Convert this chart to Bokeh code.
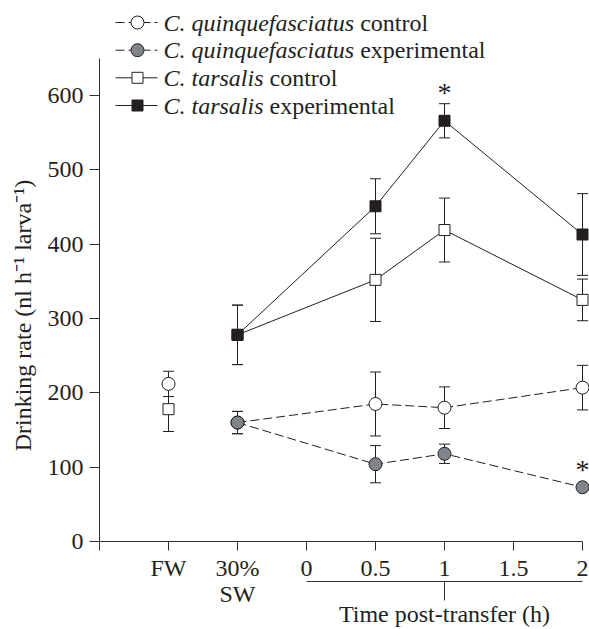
import math
from bokeh.plotting import figure
from bokeh.models import Range1d, LinearAxis, FixedTicker, Label
from bokeh.core.properties import value
from bokeh.embed import file_html
from bokeh.resources import INLINE

# ---------------- data ----------------
tick_pos = [-1.5, -1.0, -0.5, 0, 0.5, 1, 1.5, 2]
tick_text = ["", "FW", "30%", "0", "0.5", "1", "1.5", "2"]
y_ticks = [0, 100, 200, 300, 400, 500, 600]

fw_x = -1.0                      # freshwater position on the axis
series_x = [-0.5, 0.5, 1, 2]     # 30% SW (time 0), then hours post-transfer

quin_ctrl_fw, quin_ctrl_fw_err = 212, 17
tars_ctrl_fw, tars_ctrl_fw_err = 178, 30

quin_ctrl = [160, 185, 180, 207]
quin_ctrl_err = [15, 43, 28, 30]
quin_exp = [160, 104, 118, 73]
quin_exp_err = [15, 25, 13, 3]
tars_ctrl = [278, 352, 419, 325]
tars_ctrl_err = [40, 56, 43, 28]
tars_exp = [278, 451, 566, 413]
tars_exp_err = [40, 37, 23, 55]

sig_series = ["tars_exp", "quin_exp"]   # significant points
sig_index = [2, 3]

legend_italic = ["C. quinquefasciatus", "C. quinquefasciatus", "C. tarsalis", "C. tarsalis"]
legend_roman = ["control", "experimental", "control", "experimental"]

# ---------------- layout (pixels of the photographed page) ----------------
FIG_W, FIG_H, MARGIN = 589, 629, 0
AX_X0, AX_X1 = 99, 582          # x = -1.5 and x = 2
AX_Y0, AX_Y600 = 541, 95        # y = 0 and y = 600
ppx = (AX_X1 - AX_X0) / 3.5
ppy = (AX_Y0 - AX_Y600) / 600.0


def dx(sx):
    return -1.5 + (sx - AX_X0) / ppx


def dy(sy):
    return (AX_Y0 - sy) / ppy


INK = "#231f20"
AXC = "#2e2e2e"
GRAY = "#7f858b"
FONT = "Liberation Serif"
FS = "24px"

p = figure(width=FIG_W, height=FIG_H,
           x_range=Range1d(dx(MARGIN), dx(MARGIN + FIG_W)),
           y_range=Range1d(dy(MARGIN + FIG_H), dy(MARGIN)),
           output_backend="svg", toolbar_location=None, title=None,
           x_axis_location=None, y_axis_location=None, min_border=0)
p.outline_line_color = None
p.grid.visible = False
p.background_fill_color = "white"
p.border_fill_color = "white"


def style_axis(ax, tick_out, standoff):
    ax.axis_line_color = AXC
    ax.axis_line_width = 1
    ax.major_tick_line_color = AXC
    ax.major_tick_line_width = 1
    ax.major_tick_out = tick_out
    ax.major_tick_in = 0
    ax.minor_tick_out = 0
    ax.minor_tick_in = 0
    ax.major_label_text_font = FONT
    ax.major_label_text_font_size = FS
    ax.major_label_text_color = INK
    ax.major_label_standoff = standoff
    ax.axis_label_text_font = FONT
    ax.axis_label_text_font_size = FS
    ax.axis_label_text_font_style = "normal"
    ax.axis_label_text_color = INK


yaxis = LinearAxis(fixed_location=-1.5, bounds=(0, 650),
                   ticker=FixedTicker(ticks=y_ticks, minor_ticks=[]))
style_axis(yaxis, 10, 6)
p.add_layout(yaxis, "left")

xaxis = LinearAxis(fixed_location=0, bounds=(-1.5, 2),
                   ticker=FixedTicker(ticks=tick_pos, minor_ticks=[]),
                   major_label_overrides=dict(zip(tick_pos, tick_text)))
style_axis(xaxis, 9, 4)
p.add_layout(xaxis, "below")

taxis = LinearAxis(fixed_location=dy(581), bounds=(0, 2),
                   ticker=FixedTicker(ticks=[1], minor_ticks=[]),
                   major_label_overrides={1: ""},
                   axis_label="Time post-transfer (h)")
style_axis(taxis, 19, 0)
taxis.major_label_text_font_size = "0px"
taxis.axis_label_standoff = 0
p.add_layout(taxis, "below")

p.add_layout(Label(x=-0.5, y=dy(593), text="SW", text_align="center",
                   text_baseline="middle", text_font=FONT, text_font_size=FS,
                   text_color=INK))
p.add_layout(Label(x=dx(22), y=dy(315), text="Drinking rate (nl h\u207b\u00b9 larva\u207b\u00b9)",
                   angle=math.pi / 2, text_align="center", text_baseline="middle",
                   text_font=FONT, text_font_size=FS, text_color=INK))

# ---------------- error bars ----------------
CAP = 11


def errbars(xs, ys, es):
    lo = [y - e for y, e in zip(ys, es)]
    hi = [y + e for y, e in zip(ys, es)]
    p.segment(x0=xs, y0=lo, x1=xs, y1=hi, line_color=INK, line_width=1)
    p.scatter(x=list(xs) + list(xs), y=lo + hi, marker="dash", size=CAP,
              line_color=INK, line_width=1)


errbars([fw_x], [quin_ctrl_fw], [quin_ctrl_fw_err])
errbars([fw_x], [tars_ctrl_fw], [tars_ctrl_fw_err])
errbars(series_x, quin_ctrl, quin_ctrl_err)
errbars(series_x, tars_ctrl, tars_ctrl_err)
errbars(series_x, quin_exp, quin_exp_err)
errbars(series_x, tars_exp, tars_exp_err)

# ---------------- lines ----------------
DASH = "9 4"
p.line(series_x, quin_ctrl, line_color=INK, line_width=1, line_dash=DASH)
p.line(series_x, quin_exp, line_color=INK, line_width=1, line_dash=DASH)
p.line(series_x, tars_ctrl, line_color=INK, line_width=1)
p.line(series_x, tars_exp, line_color=INK, line_width=1)

# ---------------- markers ----------------
CS, SS = 13, 11
p.scatter([fw_x], [quin_ctrl_fw], marker="circle", size=CS, fill_color="white", line_color=INK)
p.scatter([fw_x], [tars_ctrl_fw], marker="square", size=SS, fill_color="white", line_color=INK)
p.scatter(series_x, quin_ctrl, marker="circle", size=CS, fill_color="white", line_color=INK)
p.scatter(series_x, tars_ctrl, marker="square", size=SS, fill_color="white", line_color=INK)
p.scatter(series_x, quin_exp, marker="circle", size=CS, fill_color=GRAY, line_color=INK)
p.scatter(series_x, tars_exp, marker="square", size=SS, fill_color=INK, line_color=INK)

# ---------------- significance asterisks ----------------
series_map = {"tars_exp": (tars_exp, tars_exp_err), "quin_exp": (quin_exp, quin_exp_err)}
ax_, ay_, aoff = [], [], []
for name, i in zip(sig_series, sig_index):
    vals, errs = series_map[name]
    ax_.append(series_x[i])
    ay_.append(vals[i])
    ext = max(errs[i] * ppy, CS / 2)
    aoff.append(-(ext + 14) + 3)
p.text(x=ax_, y=ay_, text=["*"] * len(ax_), y_offset=aoff, text_align="center",
       text_baseline="alphabetic", text_font=value(FONT), text_font_size="28px",
       text_color=INK)

# ---------------- legend ----------------
rows = [22, 49.7, 77.3, 105]
leg_marker = ["circle", "circle", "square", "square"]
leg_fill = ["white", GRAY, "white", INK]
leg_dash = [DASH, DASH, "solid", "solid"]
for r, m, f, d in zip(rows, leg_marker, leg_fill, leg_dash):
    p.line([dx(115), dx(157)], [dy(r), dy(r)], line_color=INK, line_width=1, line_dash=d)
    p.scatter([dx(137)], [dy(r)], marker=m, size=CS if m == "circle" else SS,
              fill_color=f, line_color=INK)

ITALIC_W = {"C": 667, ".": 250, " ": 250, "q": 500, "u": 500, "i": 278, "n": 500,
            "e": 444, "f": 278, "a": 500, "s": 389, "c": 444, "t": 278, "r": 389, "l": 278}
fs_px = 24
offs = [sum(ITALIC_W[c] for c in t) / 1000 * fs_px + 0.25 * fs_px for t in legend_italic]
p.text(x=[dx(163)] * 4, y=[dy(r) for r in rows], text=legend_italic,
       text_font=value(FONT), text_font_style="italic", text_font_size=FS,
       text_baseline="middle", text_align="left", text_color=INK)
p.text(x=[dx(163)] * 4, y=[dy(r) for r in rows], text=legend_roman, x_offset=offs,
       text_font=value(FONT), text_font_size=FS,
       text_baseline="middle", text_align="left", text_color=INK)

open("out.html", "w").write(file_html(p, INLINE, "plot"))
